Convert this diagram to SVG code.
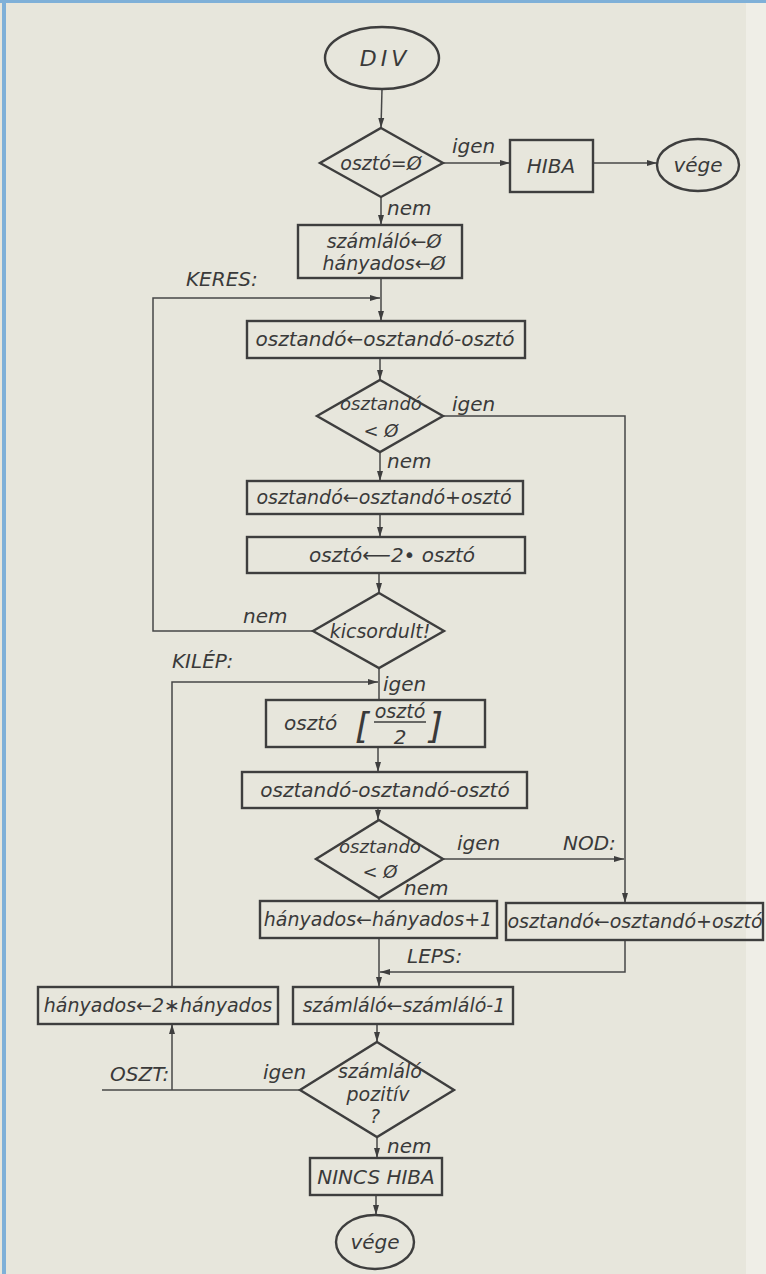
<svg xmlns="http://www.w3.org/2000/svg" width="766" height="1274" viewBox="0 0 766 1274">
<style>
.bg{fill:#e7e6dc}
.shape{fill:none;stroke:#3e3e3e;stroke-width:2.4}
.conn{fill:none;stroke:#474747;stroke-width:1.5}
text{font-family:"DejaVu Sans","Liberation Sans",sans-serif;font-style:italic;fill:#3a3a3a;font-size:20px}
.c{text-anchor:middle}
.d{font-size:18px}
.b{font-size:19px}
.br{font-size:36px}
.dv{font-size:22px;letter-spacing:4px}
</style>
<defs>
<marker id="ah" markerUnits="userSpaceOnUse" markerWidth="11" markerHeight="7" refX="10" refY="3.5" orient="auto">
<path d="M0,0.5 L10,3.5 L0,6.5 z" fill="#3e3e3e"/>
</marker>
</defs>
<rect class="bg" x="0" y="0" width="766" height="1274"/>
<rect x="746" y="0" width="20" height="1274" fill="#efeee7"/>
<rect x="0" y="0" width="766" height="3" fill="#7fb0d8"/>
<rect x="2" y="0" width="4" height="1274" fill="#7fb0d8"/>

<g id="connectors">
<line class="conn" x1="382" y1="89" x2="381" y2="128" marker-end="url(#ah)"/>
<line class="conn" x1="443" y1="163" x2="510" y2="163" marker-end="url(#ah)"/>
<line class="conn" x1="593" y1="163" x2="657" y2="163" marker-end="url(#ah)"/>
<line class="conn" x1="381" y1="197" x2="381" y2="225" marker-end="url(#ah)"/>
<line class="conn" x1="381" y1="278" x2="381" y2="321" marker-end="url(#ah)"/>
<polyline class="conn" points="313,631 153,631 153,298 380,298" marker-end="url(#ah)"/>
<line class="conn" x1="380" y1="358" x2="380" y2="380" marker-end="url(#ah)"/>
<polyline class="conn" points="443,416 625,416 625,903" marker-end="url(#ah)"/>
<line class="conn" x1="380" y1="452" x2="380" y2="481" marker-end="url(#ah)"/>
<line class="conn" x1="380" y1="514" x2="380" y2="537" marker-end="url(#ah)"/>
<line class="conn" x1="379" y1="573" x2="379" y2="593" marker-end="url(#ah)"/>
<line class="conn" x1="379" y1="668" x2="379" y2="700"/>
<polyline class="conn" points="172,987 172,682 378,682" marker-end="url(#ah)"/>
<line class="conn" x1="378" y1="747" x2="378" y2="772" marker-end="url(#ah)"/>
<line class="conn" x1="378" y1="808" x2="378" y2="820" marker-end="url(#ah)"/>
<line class="conn" x1="443" y1="859" x2="624" y2="859" marker-end="url(#ah)"/>
<line class="conn" x1="379" y1="898" x2="379" y2="901"/>
<polyline class="conn" points="625,940 625,972 380,972" marker-end="url(#ah)"/>
<line class="conn" x1="379" y1="938" x2="379" y2="987" marker-end="url(#ah)"/>
<line class="conn" x1="377" y1="1024" x2="377" y2="1042" marker-end="url(#ah)"/>
<line class="conn" x1="300" y1="1090" x2="102" y2="1090"/>
<line class="conn" x1="172" y1="1090" x2="172" y2="1024" marker-end="url(#ah)"/>
<line class="conn" x1="377" y1="1137" x2="377" y2="1158" marker-end="url(#ah)"/>
<line class="conn" x1="376" y1="1195" x2="376" y2="1215" marker-end="url(#ah)"/>
</g>

<g id="labels">
<text x="452" y="153">igen</text>
<text x="387" y="215">nem</text>
<text x="186" y="286">KERES:</text>
<text x="452" y="411">igen</text>
<text x="387" y="468">nem</text>
<text x="243" y="623">nem</text>
<text x="172" y="668">KILÉP:</text>
<text x="383" y="691">igen</text>
<text x="457" y="850">igen</text>
<text x="563" y="850">NOD:</text>
<text x="404" y="895">nem</text>
<text x="407" y="963">LEPS:</text>
<text x="110" y="1081">OSZT:</text>
<text x="263" y="1079">igen</text>
<text x="387" y="1153">nem</text>
</g>

<g id="n-div">
<ellipse class="shape" cx="382" cy="58" rx="57" ry="31"/>
<text class="c dv" x="385" y="66">DIV</text>
</g>
<g id="n-oszto0">
<polygon class="shape" points="381,128 443,163 381,197 320,163"/>
<text class="c b" x="381" y="170">osztó=Ø</text>
</g>
<g id="n-hiba">
<rect class="shape" x="510" y="140" width="83" height="52"/>
<text class="c" x="551" y="173">HIBA</text>
</g>
<g id="n-vege1">
<ellipse class="shape" cx="698" cy="165" rx="41" ry="26"/>
<text class="c" x="698" y="172">vége</text>
</g>
<g id="n-init">
<rect class="shape" x="298" y="225" width="164" height="53"/>
<text class="c b" x="384" y="248">számláló←Ø</text>
<text class="c b" x="384" y="270">hányados←Ø</text>
</g>
<g id="n-sub1">
<rect class="shape" x="247" y="321" width="278" height="37"/>
<text class="c" x="385" y="346">osztandó←osztandó-osztó</text>
</g>
<g id="n-neg1">
<polygon class="shape" points="380,380 443,416 380,452 317,416"/>
<text class="c d" x="381" y="410">osztandó</text>
<text class="c d" x="381" y="437">&lt; Ø</text>
</g>
<g id="n-add1">
<rect class="shape" x="247" y="481" width="276" height="33"/>
<text class="c b" x="384" y="504">osztandó←osztandó+osztó</text>
</g>
<g id="n-dbl">
<rect class="shape" x="247" y="537" width="278" height="36"/>
<text class="c" x="392" y="562">osztó⟵2• osztó</text>
</g>
<g id="n-overflow">
<polygon class="shape" points="379,593 444,631 379,668 313,631"/>
<text class="c b" x="380" y="638">kicsordult!</text>
</g>
<g id="n-half">
<rect class="shape" x="266" y="700" width="219" height="47"/>
<text x="284" y="730">osztó</text>
<text class="br" x="355" y="738">[</text>
<text class="c b" x="400" y="718">osztó</text>
<line x1="374" y1="722" x2="426" y2="722" stroke="#3e3e3e" stroke-width="1.5"/>
<text class="c" x="400" y="744">2</text>
<text class="br" x="429" y="738">]</text>
</g>
<g id="n-sub2">
<rect class="shape" x="242" y="772" width="285" height="36"/>
<text class="c" x="385" y="797">osztandó-osztandó-osztó</text>
</g>
<g id="n-neg2">
<polygon class="shape" points="379,820 443,859 379,898 316,859"/>
<text class="c d" x="380" y="853">osztando</text>
<text class="c d" x="380" y="878">&lt; Ø</text>
</g>
<g id="n-inc">
<rect class="shape" x="260" y="901" width="237" height="37"/>
<text class="c b" x="378" y="926">hányados←hányados+1</text>
</g>
<g id="n-add2">
<rect class="shape" x="506" y="903" width="257" height="37"/>
<text class="c b" x="635" y="928">osztandó←osztandó+osztó</text>
</g>
<g id="n-dblq">
<rect class="shape" x="38" y="987" width="240" height="37"/>
<text class="c b" x="158" y="1012">hányados←2∗hányados</text>
</g>
<g id="n-dec">
<rect class="shape" x="293" y="987" width="220" height="37"/>
<text class="c b" x="404" y="1012">számláló←számláló-1</text>
</g>
<g id="n-pos">
<polygon class="shape" points="377,1042 454,1090 377,1137 300,1090"/>
<text class="c b" x="380" y="1078">számláló</text>
<text class="c b" x="378" y="1101">pozitív</text>
<text class="c b" x="375" y="1123">?</text>
</g>
<g id="n-ok">
<rect class="shape" x="310" y="1158" width="132" height="37"/>
<text class="c" x="376" y="1184">NINCS HIBA</text>
</g>
<g id="n-vege2">
<ellipse class="shape" cx="375" cy="1242" rx="39" ry="27"/>
<text class="c" x="375" y="1249">vége</text>
</g>
</svg>
